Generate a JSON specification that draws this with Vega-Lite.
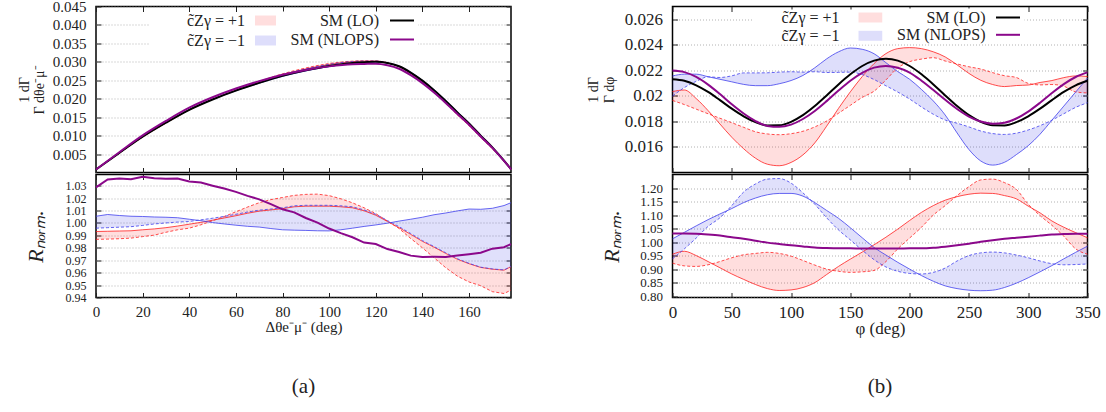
{
  "$schema": "https://vega.github.io/schema/vega-lite/v6.json",
  "background": "white",
  "padding": {"left": 16, "top": -1.5, "right": 10, "bottom": 5},
  "config": {
    "view": {"stroke": "black", "strokeWidth": 1.5},
    "font": "Liberation Serif, serif",
    "axis": {"labelFont": "Liberation Serif, serif", "labelFontSize": 15, "labelColor": "#222", "titleFont": "Liberation Serif, serif", "titleFontWeight": "normal", "titleColor": "#222", "tickColor": "#222", "tickWidth": 1, "tickSize": -5, "labelPadding": 15, "domain": false, "grid": false, "gridColor": "#a0a0a0", "gridDash": [1, 2], "gridWidth": 0.8, "labelFlush": false, "labelOverlap": false, "labelBound": false},
    "legend": {"labelFont": "Liberation Serif, serif", "labelFontSize": 16, "labelColor": "#222", "padding": 0},
    "title": {"font": "Liberation Serif, serif", "fontWeight": "normal", "fontSize": 21, "color": "#222"}
  },
  "datasets": {
    "at": [
      {"x":0,"lo":0.0008,"nlo":0.00082,"rs":0.00079,"rd":0.00079,"bs":0.0008,"bd":0.0008},
      {"x":10,"lo":0.0053,"nlo":0.00549,"rs":0.00527,"rd":0.00523,"bs":0.00533,"bd":0.00528},
      {"x":20,"lo":0.0097,"nlo":0.01006,"rs":0.00965,"rd":0.00959,"bs":0.00975,"bd":0.00968},
      {"x":30,"lo":0.0135,"nlo":0.01398,"rs":0.01345,"rd":0.0134,"bs":0.01356,"bd":0.0135},
      {"x":40,"lo":0.017,"nlo":0.01757,"rs":0.01698,"rd":0.01693,"bs":0.01705,"bd":0.01702},
      {"x":50,"lo":0.0198,"nlo":0.02039,"rs":0.01984,"rd":0.01984,"bs":0.01981,"bd":0.01988},
      {"x":60,"lo":0.0222,"nlo":0.02276,"rs":0.02233,"rd":0.0224,"bs":0.02216,"bd":0.02236},
      {"x":70,"lo":0.0243,"nlo":0.02476,"rs":0.02453,"rd":0.0247,"bs":0.02422,"bd":0.02455},
      {"x":80,"lo":0.0262,"nlo":0.02649,"rs":0.0265,"rd":0.02674,"bs":0.02606,"bd":0.02652},
      {"x":90,"lo":0.0277,"nlo":0.02781,"rs":0.02807,"rd":0.02834,"bs":0.02753,"bd":0.02809},
      {"x":100,"lo":0.0289,"nlo":0.02877,"rs":0.02929,"rd":0.02954,"bs":0.02872,"bd":0.02931},
      {"x":110,"lo":0.0297,"nlo":0.02936,"rs":0.03006,"rd":0.03018,"bs":0.02958,"bd":0.03009},
      {"x":115,"lo":0.0299,"nlo":0.02943,"rs":0.03019,"rd":0.03026,"bs":0.02982,"bd":0.03021},
      {"x":120,"lo":0.03,"nlo":0.02949,"rs":0.03019,"rd":0.03023,"bs":0.02995,"bd":0.03021},
      {"x":125,"lo":0.0297,"nlo":0.02908,"rs":0.02974,"rd":0.02974,"bs":0.02969,"bd":0.02976},
      {"x":130,"lo":0.0288,"nlo":0.02813,"rs":0.02869,"rd":0.02867,"bs":0.02884,"bd":0.02871},
      {"x":135,"lo":0.0271,"nlo":0.02639,"rs":0.02685,"rd":0.02676,"bs":0.02718,"bd":0.02687},
      {"x":140,"lo":0.0249,"nlo":0.02422,"rs":0.02453,"rd":0.0244,"bs":0.02501,"bd":0.02455},
      {"x":145,"lo":0.0223,"nlo":0.02169,"rs":0.02187,"rd":0.02168,"bs":0.02245,"bd":0.02188},
      {"x":150,"lo":0.0194,"nlo":0.01887,"rs":0.01892,"rd":0.0187,"bs":0.01956,"bd":0.01893},
      {"x":155,"lo":0.0163,"nlo":0.01587,"rs":0.01582,"rd":0.0156,"bs":0.01646,"bd":0.01583},
      {"x":160,"lo":0.0133,"nlo":0.01296,"rs":0.01286,"rd":0.01267,"bs":0.01345,"bd":0.01287},
      {"x":165,"lo":0.01,"nlo":0.00976,"rs":0.00964,"rd":0.0095,"bs":0.01011,"bd":0.00964},
      {"x":170,"lo":0.0068,"nlo":0.00666,"rs":0.00655,"rd":0.00642,"bs":0.00688,"bd":0.00655},
      {"x":175,"lo":0.0032,"nlo":0.00314,"rs":0.00308,"rd":0.00302,"bs":0.00324,"bd":0.00308},
      {"x":178,"lo":0.0009,"nlo":0.00088,"rs":0.00087,"rd":0.00085,"bs":0.00092,"bd":0.00087}
    ],
    "ab": [
      {"x":0,"p":1.0286,"rs":0.9931,"rd":0.9868,"bs":1.0054,"bd":0.9958},
      {"x":5,"p":1.035,"rs":0.9933,"rd":0.987,"bs":1.0068,"bd":0.9962},
      {"x":10,"p":1.0358,"rs":0.9935,"rd":0.9873,"bs":1.006,"bd":0.9966},
      {"x":15,"p":1.0352,"rs":0.9937,"rd":0.9878,"bs":1.0054,"bd":0.997},
      {"x":20,"p":1.0372,"rs":0.9945,"rd":0.989,"bs":1.0052,"bd":0.998},
      {"x":25,"p":1.036,"rs":0.9952,"rd":0.9902,"bs":1.0048,"bd":0.9992},
      {"x":30,"p":1.0355,"rs":0.9962,"rd":0.9925,"bs":1.0046,"bd":1.0},
      {"x":35,"p":1.0357,"rs":0.9975,"rd":0.9945,"bs":1.0042,"bd":1.0007},
      {"x":40,"p":1.0333,"rs":0.999,"rd":0.9958,"bs":1.003,"bd":1.0012},
      {"x":45,"p":1.0325,"rs":1.0005,"rd":0.9985,"bs":1.0018,"bd":1.0025},
      {"x":50,"p":1.03,"rs":1.0022,"rd":1.0018,"bs":1.0003,"bd":1.0038},
      {"x":55,"p":1.0277,"rs":1.004,"rd":1.0052,"bs":0.9992,"bd":1.0053},
      {"x":60,"p":1.025,"rs":1.0058,"rd":1.009,"bs":0.9982,"bd":1.007},
      {"x":65,"p":1.0218,"rs":1.0078,"rd":1.0128,"bs":0.9973,"bd":1.0088},
      {"x":70,"p":1.019,"rs":1.0095,"rd":1.0163,"bs":0.9967,"bd":1.0103},
      {"x":75,"p":1.0152,"rs":1.0105,"rd":1.0188,"bs":0.9955,"bd":1.0112},
      {"x":80,"p":1.011,"rs":1.0115,"rd":1.0205,"bs":0.9945,"bd":1.0122},
      {"x":85,"p":1.0085,"rs":1.013,"rd":1.0222,"bs":0.9942,"bd":1.0138},
      {"x":90,"p":1.004,"rs":1.0135,"rd":1.023,"bs":0.994,"bd":1.0142},
      {"x":95,"p":1.0003,"rs":1.0135,"rd":1.0232,"bs":0.9937,"bd":1.0142},
      {"x":100,"p":0.9955,"rs":1.0135,"rd":1.022,"bs":0.9936,"bd":1.0142},
      {"x":105,"p":0.9918,"rs":1.013,"rd":1.0195,"bs":0.9945,"bd":1.0138},
      {"x":110,"p":0.9885,"rs":1.0122,"rd":1.0162,"bs":0.9958,"bd":1.013},
      {"x":115,"p":0.9842,"rs":1.0098,"rd":1.0122,"bs":0.9972,"bd":1.0105},
      {"x":120,"p":0.983,"rs":1.0062,"rd":1.0075,"bs":0.9984,"bd":1.007},
      {"x":125,"p":0.979,"rs":1.0012,"rd":1.0015,"bs":0.9998,"bd":1.002},
      {"x":130,"p":0.9766,"rs":0.9962,"rd":0.9955,"bs":1.0015,"bd":0.997},
      {"x":135,"p":0.9737,"rs":0.9908,"rd":0.9875,"bs":1.003,"bd":0.9915},
      {"x":140,"p":0.9726,"rs":0.9852,"rd":0.98,"bs":1.0046,"bd":0.9858},
      {"x":145,"p":0.9727,"rs":0.9805,"rd":0.972,"bs":1.0066,"bd":0.981},
      {"x":150,"p":0.9726,"rs":0.9755,"rd":0.964,"bs":1.008,"bd":0.976},
      {"x":155,"p":0.9738,"rs":0.9708,"rd":0.9572,"bs":1.0097,"bd":0.9712},
      {"x":160,"p":0.9748,"rs":0.9672,"rd":0.9525,"bs":1.0112,"bd":0.9675},
      {"x":165,"p":0.976,"rs":0.9642,"rd":0.9495,"bs":1.011,"bd":0.9644},
      {"x":170,"p":0.9793,"rs":0.9628,"rd":0.9447,"bs":1.0118,"bd":0.963},
      {"x":175,"p":0.9805,"rs":0.962,"rd":0.9432,"bs":1.014,"bd":0.9622},
      {"x":178,"p":0.983,"rs":0.9648,"rd":0.9459,"bs":1.0163,"bd":0.965}
    ],
    "bt": [
      {"x":0,"lo":0.0213,"nlo":0.02198,"rs":0.02034,"rd":0.01964,"bs":0.02156,"bd":0.01998},
      {"x":10,"lo":0.02118,"nlo":0.02186,"rs":0.02046,"rd":0.01932,"bs":0.0217,"bd":0.02065},
      {"x":20,"lo":0.02083,"nlo":0.02148,"rs":0.01979,"rd":0.01896,"bs":0.0217,"bd":0.02114},
      {"x":30,"lo":0.02031,"nlo":0.02088,"rs":0.01885,"rd":0.0186,"bs":0.0215,"bd":0.02149},
      {"x":40,"lo":0.01967,"nlo":0.02014,"rs":0.0178,"rd":0.01825,"bs":0.0213,"bd":0.02144},
      {"x":50,"lo":0.019,"nlo":0.01934,"rs":0.01676,"rd":0.0179,"bs":0.0211,"bd":0.02157},
      {"x":60,"lo":0.0184,"nlo":0.01862,"rs":0.01586,"rd":0.01754,"bs":0.0209,"bd":0.0218},
      {"x":70,"lo":0.01794,"nlo":0.01803,"rs":0.01512,"rd":0.01719,"bs":0.0208,"bd":0.0218},
      {"x":80,"lo":0.01769,"nlo":0.01765,"rs":0.01465,"rd":0.01702,"bs":0.0208,"bd":0.02181},
      {"x":90,"lo":0.0177,"nlo":0.01758,"rs":0.01453,"rd":0.01696,"bs":0.02095,"bd":0.02186},
      {"x":100,"lo":0.01797,"nlo":0.01775,"rs":0.01479,"rd":0.01704,"bs":0.0212,"bd":0.02189},
      {"x":110,"lo":0.01849,"nlo":0.01819,"rs":0.01538,"rd":0.01723,"bs":0.0216,"bd":0.02186},
      {"x":120,"lo":0.0192,"nlo":0.01882,"rs":0.01632,"rd":0.01757,"bs":0.0222,"bd":0.02189},
      {"x":130,"lo":0.02003,"nlo":0.01959,"rs":0.01763,"rd":0.01803,"bs":0.0229,"bd":0.02183},
      {"x":140,"lo":0.0209,"nlo":0.02042,"rs":0.01902,"rd":0.01864,"bs":0.02345,"bd":0.02184},
      {"x":150,"lo":0.02169,"nlo":0.02119,"rs":0.02032,"rd":0.01926,"bs":0.02375,"bd":0.02186},
      {"x":160,"lo":0.02234,"nlo":0.0218,"rs":0.02151,"rd":0.01988,"bs":0.02365,"bd":0.02167},
      {"x":170,"lo":0.02276,"nlo":0.02221,"rs":0.02253,"rd":0.02037,"bs":0.0233,"bd":0.02128},
      {"x":180,"lo":0.0229,"nlo":0.02235,"rs":0.02331,"rd":0.02125,"bs":0.0226,"bd":0.02079},
      {"x":190,"lo":0.02276,"nlo":0.02221,"rs":0.0237,"rd":0.02219,"bs":0.0219,"bd":0.0203},
      {"x":200,"lo":0.02234,"nlo":0.02183,"rs":0.02378,"rd":0.02268,"bs":0.0213,"bd":0.01975},
      {"x":210,"lo":0.02169,"nlo":0.02119,"rs":0.0237,"rd":0.02288,"bs":0.0205,"bd":0.01913},
      {"x":220,"lo":0.0209,"nlo":0.02046,"rs":0.02345,"rd":0.02299,"bs":0.0196,"bd":0.01856},
      {"x":230,"lo":0.02003,"nlo":0.01969,"rs":0.02305,"rd":0.02273,"bs":0.0185,"bd":0.01811},
      {"x":240,"lo":0.0192,"nlo":0.01897,"rs":0.02243,"rd":0.0225,"bs":0.0171,"bd":0.01786},
      {"x":250,"lo":0.01849,"nlo":0.01838,"rs":0.02176,"rd":0.02228,"bs":0.0158,"bd":0.01757},
      {"x":260,"lo":0.01797,"nlo":0.01799,"rs":0.02122,"rd":0.0221,"bs":0.0149,"bd":0.01725},
      {"x":270,"lo":0.0177,"nlo":0.01782,"rs":0.02089,"rd":0.02182,"bs":0.01458,"bd":0.01705},
      {"x":280,"lo":0.01769,"nlo":0.0179,"rs":0.02073,"rd":0.02158,"bs":0.0148,"bd":0.01698},
      {"x":290,"lo":0.01794,"nlo":0.01823,"rs":0.02081,"rd":0.02144,"bs":0.0154,"bd":0.01708},
      {"x":300,"lo":0.0184,"nlo":0.01877,"rs":0.02085,"rd":0.02098,"bs":0.0161,"bd":0.01733},
      {"x":310,"lo":0.019,"nlo":0.01946,"rs":0.02105,"rd":0.02086,"bs":0.017,"bd":0.01767},
      {"x":320,"lo":0.01967,"nlo":0.02022,"rs":0.0212,"rd":0.02089,"bs":0.0181,"bd":0.0181},
      {"x":330,"lo":0.02031,"nlo":0.02092,"rs":0.02143,"rd":0.02076,"bs":0.0192,"bd":0.0186},
      {"x":340,"lo":0.02083,"nlo":0.02148,"rs":0.02156,"rd":0.02031,"bs":0.0203,"bd":0.0191},
      {"x":350,"lo":0.02118,"nlo":0.02184,"rs":0.02152,"rd":0.02023,"bs":0.0214,"bd":0.01946}
    ],
    "bb": [
      {"x":0,"p":1.032,"rs":0.955,"rd":0.922,"bs":1.012,"bd":0.938},
      {"x":10,"p":1.032,"rs":0.966,"rd":0.912,"bs":1.036,"bd":0.975},
      {"x":20,"p":1.031,"rs":0.95,"rd":0.91,"bs":1.06,"bd":1.015},
      {"x":30,"p":1.028,"rs":0.928,"rd":0.916,"bs":1.083,"bd":1.058},
      {"x":40,"p":1.024,"rs":0.905,"rd":0.928,"bs":1.104,"bd":1.09},
      {"x":50,"p":1.018,"rs":0.882,"rd":0.942,"bs":1.124,"bd":1.135},
      {"x":60,"p":1.012,"rs":0.862,"rd":0.953,"bs":1.146,"bd":1.185},
      {"x":70,"p":1.005,"rs":0.843,"rd":0.958,"bs":1.163,"bd":1.215},
      {"x":80,"p":0.998,"rs":0.828,"rd":0.962,"bs":1.175,"bd":1.233},
      {"x":90,"p":0.993,"rs":0.821,"rd":0.958,"bs":1.18,"bd":1.235},
      {"x":100,"p":0.988,"rs":0.823,"rd":0.948,"bs":1.18,"bd":1.218},
      {"x":110,"p":0.984,"rs":0.832,"rd":0.932,"bs":1.17,"bd":1.182},
      {"x":120,"p":0.98,"rs":0.85,"rd":0.915,"bs":1.146,"bd":1.14},
      {"x":130,"p":0.978,"rs":0.88,"rd":0.9,"bs":1.117,"bd":1.09},
      {"x":140,"p":0.977,"rs":0.91,"rd":0.892,"bs":1.088,"bd":1.045},
      {"x":150,"p":0.977,"rs":0.937,"rd":0.888,"bs":1.053,"bd":1.008},
      {"x":160,"p":0.976,"rs":0.963,"rd":0.89,"bs":1.016,"bd":0.97},
      {"x":170,"p":0.976,"rs":0.99,"rd":0.895,"bs":0.98,"bd":0.935},
      {"x":180,"p":0.976,"rs":1.018,"rd":0.928,"bs":0.952,"bd":0.908},
      {"x":190,"p":0.976,"rs":1.048,"rd":0.975,"bs":0.925,"bd":0.892},
      {"x":200,"p":0.977,"rs":1.08,"rd":1.015,"bs":0.9,"bd":0.884},
      {"x":210,"p":0.977,"rs":1.11,"rd":1.055,"bs":0.876,"bd":0.882},
      {"x":220,"p":0.979,"rs":1.135,"rd":1.1,"bs":0.855,"bd":0.888},
      {"x":230,"p":0.983,"rs":1.155,"rd":1.135,"bs":0.838,"bd":0.904},
      {"x":240,"p":0.988,"rs":1.168,"rd":1.172,"bs":0.828,"bd":0.93},
      {"x":250,"p":0.994,"rs":1.177,"rd":1.205,"bs":0.822,"bd":0.95},
      {"x":260,"p":1.001,"rs":1.181,"rd":1.23,"bs":0.82,"bd":0.96},
      {"x":270,"p":1.007,"rs":1.18,"rd":1.233,"bs":0.822,"bd":0.963},
      {"x":280,"p":1.012,"rs":1.172,"rd":1.22,"bs":0.832,"bd":0.96},
      {"x":290,"p":1.016,"rs":1.16,"rd":1.195,"bs":0.848,"bd":0.952},
      {"x":300,"p":1.02,"rs":1.133,"rd":1.14,"bs":0.868,"bd":0.942},
      {"x":310,"p":1.024,"rs":1.108,"rd":1.098,"bs":0.89,"bd":0.93},
      {"x":320,"p":1.028,"rs":1.078,"rd":1.062,"bs":0.913,"bd":0.92},
      {"x":330,"p":1.03,"rs":1.055,"rd":1.022,"bs":0.938,"bd":0.916},
      {"x":340,"p":1.031,"rs":1.035,"rd":0.975,"bs":0.962,"bd":0.917},
      {"x":350,"p":1.031,"rs":1.016,"rd":0.955,"bs":0.985,"bd":0.919}
    ]
  },
  "spacing": 69.5,
  "resolve": {"scale": {"fill": "independent", "stroke": "independent"}, "legend": {"fill": "independent", "stroke": "independent"}},
  "hconcat": [
    {
      "spacing": -4,
      "resolve": {"scale": {"fill": "independent", "stroke": "independent"}, "legend": {"fill": "independent", "stroke": "independent"}},
      "vconcat": [
        {
          "width": 415, "height": 166,
          "data": {"name": "at"},
          "resolve": {"axis": {"x": "independent", "y": "independent"}},
          "layer": [
            {"mark": {"type": "area", "fillOpacity": 0.13, "interpolate": "monotone"},
             "encoding": {
               "x": {"field": "x", "type": "quantitative", "scale": {"domain": [0, 178], "nice": false, "zero": false}, "axis": {"orient": "bottom", "values": [0,20,40,60,80,100,120,140,160], "labels": false, "title": null}},
               "y": {"field": "rs", "type": "quantitative", "scale": {"domain": [0, 0.045], "nice": false, "zero": false}, "axis": {"orient": "left", "values": [0.005,0.01,0.015,0.02,0.025,0.03,0.035,0.04,0.045], "format": ".3f", "grid": true, "title": ["1   dΓ", "Γ  dθe⁻μ⁻"], "titleFontSize": 14, "titleLineHeight": 15, "titlePadding": 6}},
               "y2": {"field": "rd"},
               "fill": {"datum": "c̃Zγ = +1", "type": "nominal", "scale": {"domain": ["c̃Zγ = +1", "c̃Zγ = −1"], "range": ["#ff0000", "#0000e0"]},
                 "legend": {"orient": "none", "legendX": 53, "legendY": 6, "title": null, "symbolType": "M-1.5,-0.625H1.5V0.625H-1.5Z", "symbolSize": 256, "symbolStrokeWidth": 0, "symbolOpacity": 0.13, "symbolOffset": 110, "labelOffset": -30, "labelAlign": "right", "rowPadding": 4, "fillColor": "white"}}
             }},
            {"mark": {"type": "area", "fillOpacity": 0.13, "interpolate": "monotone"},
             "encoding": {
               "x": {"field": "x", "type": "quantitative", "axis": {"orient": "top", "values": [0,20,40,60,80,100,120,140,160], "labels": false, "title": null}},
               "y": {"field": "bs", "type": "quantitative", "axis": {"orient": "right", "values": [0.005,0.01,0.015,0.02,0.025,0.03,0.035,0.04,0.045], "labels": false, "title": null}},
               "y2": {"field": "bd"},
               "fill": {"datum": "c̃Zγ = −1", "type": "nominal"}
             }},
            {"mark": {"type": "line", "stroke": "#ff2020", "strokeWidth": 0.8, "interpolate": "monotone"}, "encoding": {"x": {"field": "x", "type": "quantitative", "axis": null}, "y": {"field": "rs", "type": "quantitative", "axis": null}}},
            {"mark": {"type": "line", "stroke": "#ff2020", "strokeWidth": 0.8, "strokeDash": [3, 2], "interpolate": "monotone"}, "encoding": {"x": {"field": "x", "type": "quantitative", "axis": null}, "y": {"field": "rd", "type": "quantitative", "axis": null}}},
            {"mark": {"type": "line", "stroke": "#4040ee", "strokeWidth": 0.8, "interpolate": "monotone"}, "encoding": {"x": {"field": "x", "type": "quantitative", "axis": null}, "y": {"field": "bs", "type": "quantitative", "axis": null}}},
            {"mark": {"type": "line", "stroke": "#4040ee", "strokeWidth": 0.8, "strokeDash": [3, 2], "interpolate": "monotone"}, "encoding": {"x": {"field": "x", "type": "quantitative", "axis": null}, "y": {"field": "bd", "type": "quantitative", "axis": null}}},
            {"mark": {"type": "line", "strokeWidth": 2, "interpolate": "monotone"},
             "encoding": {"x": {"field": "x", "type": "quantitative", "axis": null}, "y": {"field": "lo", "type": "quantitative", "axis": null},
               "stroke": {"datum": "SM (LO)", "type": "nominal", "scale": {"domain": ["SM (LO)", "SM (NLOPS)"], "range": ["#000000", "#8b088b"]},
                 "legend": {"orient": "none", "legendX": 180, "legendY": 5, "title": null, "symbolType": "M-1.5,0H1.5", "symbolSize": 256, "symbolStrokeWidth": 2, "symbolOffset": 117, "labelOffset": -32, "labelAlign": "right", "rowPadding": 2, "fillColor": "white"}}}},
            {"mark": {"type": "line", "strokeWidth": 2, "interpolate": "monotone"},
             "encoding": {"x": {"field": "x", "type": "quantitative", "axis": null}, "y": {"field": "nlo", "type": "quantitative", "axis": null},
               "stroke": {"datum": "SM (NLOPS)", "type": "nominal"}}}
          ]
        },
        {
          "width": 415, "height": 123,
          "data": {"name": "ab"},
          "title": {"text": "(a)", "orient": "bottom", "frame": "group", "anchor": "middle", "offset": 41},
          "resolve": {"axis": {"x": "independent", "y": "independent"}},
          "layer": [
            {"mark": {"type": "area", "fill": "#ff0000", "fillOpacity": 0.13},
             "encoding": {
               "x": {"field": "x", "type": "quantitative", "scale": {"domain": [0, 178], "nice": false, "zero": false}, "axis": {"orient": "bottom", "values": [0,20,40,60,80,100,120,140,160], "labelPadding": 12, "title": "Δθe⁻μ⁻ (deg)", "titleFontSize": 15, "titlePadding": 0}},
               "y": {"field": "rs", "type": "quantitative", "scale": {"domain": [0.94, 1.039], "nice": false, "zero": false}, "axis": {"orient": "left", "values": [0.94,0.95,0.96,0.97,0.98,0.99,1.0,1.01,1.02,1.03], "format": ".2f", "labelFontSize": 12, "grid": true, "title": "Rₙₒᵣₘ.", "titleFontSize": 22, "titleFontStyle": "italic", "titlePadding": 18}},
               "y2": {"field": "rd"}
             }},
            {"mark": {"type": "area", "fill": "#0000e0", "fillOpacity": 0.12},
             "encoding": {
               "x": {"field": "x", "type": "quantitative", "axis": {"orient": "top", "values": [0,20,40,60,80,100,120,140,160], "labels": false, "title": null}},
               "y": {"field": "bs", "type": "quantitative", "axis": {"orient": "right", "values": [0.94,0.95,0.96,0.97,0.98,0.99,1.0,1.01,1.02,1.03], "labels": false, "title": null}},
               "y2": {"field": "bd"}
             }},
            {"mark": {"type": "line", "stroke": "#ff2020", "strokeWidth": 0.8}, "encoding": {"x": {"field": "x", "type": "quantitative", "axis": null}, "y": {"field": "rs", "type": "quantitative", "axis": null}}},
            {"mark": {"type": "line", "stroke": "#ff2020", "strokeWidth": 0.8, "strokeDash": [3, 2]}, "encoding": {"x": {"field": "x", "type": "quantitative", "axis": null}, "y": {"field": "rd", "type": "quantitative", "axis": null}}},
            {"mark": {"type": "line", "stroke": "#4040ee", "strokeWidth": 0.8}, "encoding": {"x": {"field": "x", "type": "quantitative", "axis": null}, "y": {"field": "bs", "type": "quantitative", "axis": null}}},
            {"mark": {"type": "line", "stroke": "#4040ee", "strokeWidth": 0.8, "strokeDash": [3, 2]}, "encoding": {"x": {"field": "x", "type": "quantitative", "axis": null}, "y": {"field": "bd", "type": "quantitative", "axis": null}}},
            {"mark": {"type": "line", "stroke": "#8b088b", "strokeWidth": 2}, "encoding": {"x": {"field": "x", "type": "quantitative", "axis": null}, "y": {"field": "p", "type": "quantitative", "axis": null}}}
          ]
        }
      ]
    },
    {
      "spacing": -4,
      "resolve": {"scale": {"fill": "independent", "stroke": "independent"}, "legend": {"fill": "independent", "stroke": "independent"}},
      "vconcat": [
        {
          "width": 415, "height": 166,
          "data": {"name": "bt"},
          "resolve": {"axis": {"x": "independent", "y": "independent"}},
          "layer": [
            {"mark": {"type": "area", "fillOpacity": 0.13, "interpolate": "monotone"},
             "encoding": {
               "x": {"field": "x", "type": "quantitative", "scale": {"domain": [0, 350], "nice": false, "zero": false}, "axis": {"orient": "bottom", "values": [0,50,100,150,200,250,300,350], "labels": false, "title": null}},
               "y": {"field": "rs", "type": "quantitative", "scale": {"domain": [0.014, 0.027], "nice": false, "zero": false}, "axis": {"orient": "left", "values": [0.016,0.018,0.02,0.022,0.024,0.026], "format": ".3~f", "labelFontSize": 17, "grid": true, "title": ["1  dΓ", "Γ  dφ"], "titleFontSize": 14, "titleLineHeight": 16, "titlePadding": 8}},
               "y2": {"field": "rd"},
               "fill": {"datum": "c̃Zγ = +1", "type": "nominal", "scale": {"domain": ["c̃Zγ = +1", "c̃Zγ = −1"], "range": ["#ff0000", "#0000e0"]},
                 "legend": {"orient": "none", "legendX": 80, "legendY": 3, "title": null, "symbolType": "M-1.5,-0.625H1.5V0.625H-1.5Z", "symbolSize": 256, "symbolStrokeWidth": 0, "symbolOpacity": 0.13, "symbolOffset": 110, "labelOffset": -39, "labelAlign": "right", "rowPadding": 2.3, "fillColor": "white"}}
             }},
            {"mark": {"type": "area", "fillOpacity": 0.13, "interpolate": "monotone"},
             "encoding": {
               "x": {"field": "x", "type": "quantitative", "axis": {"orient": "top", "values": [0,50,100,150,200,250,300,350], "labels": false, "title": null}},
               "y": {"field": "bs", "type": "quantitative", "axis": {"orient": "right", "values": [0.016,0.018,0.02,0.022,0.024,0.026], "labels": false, "title": null}},
               "y2": {"field": "bd"},
               "fill": {"datum": "c̃Zγ = −1", "type": "nominal"}
             }},
            {"mark": {"type": "line", "stroke": "#ff2020", "strokeWidth": 0.8, "interpolate": "monotone"}, "encoding": {"x": {"field": "x", "type": "quantitative", "axis": null}, "y": {"field": "rs", "type": "quantitative", "axis": null}}},
            {"mark": {"type": "line", "stroke": "#ff2020", "strokeWidth": 0.8, "strokeDash": [3, 2], "interpolate": "monotone"}, "encoding": {"x": {"field": "x", "type": "quantitative", "axis": null}, "y": {"field": "rd", "type": "quantitative", "axis": null}}},
            {"mark": {"type": "line", "stroke": "#4040ee", "strokeWidth": 0.8, "interpolate": "monotone"}, "encoding": {"x": {"field": "x", "type": "quantitative", "axis": null}, "y": {"field": "bs", "type": "quantitative", "axis": null}}},
            {"mark": {"type": "line", "stroke": "#4040ee", "strokeWidth": 0.8, "strokeDash": [3, 2], "interpolate": "monotone"}, "encoding": {"x": {"field": "x", "type": "quantitative", "axis": null}, "y": {"field": "bd", "type": "quantitative", "axis": null}}},
            {"mark": {"type": "line", "strokeWidth": 2, "interpolate": "monotone"},
             "encoding": {"x": {"field": "x", "type": "quantitative", "axis": null}, "y": {"field": "lo", "type": "quantitative", "axis": null},
               "stroke": {"datum": "SM (LO)", "type": "nominal", "scale": {"domain": ["SM (LO)", "SM (NLOPS)"], "range": ["#000000", "#8b088b"]},
                 "legend": {"orient": "none", "legendX": 210, "legendY": 2, "title": null, "symbolType": "M-1.5,0H1.5", "symbolSize": 256, "symbolStrokeWidth": 2, "symbolOffset": 116.5, "labelOffset": -31.5, "labelAlign": "right", "rowPadding": 0.3, "fillColor": "white"}}}},
            {"mark": {"type": "line", "strokeWidth": 2, "interpolate": "monotone"},
             "encoding": {"x": {"field": "x", "type": "quantitative", "axis": null}, "y": {"field": "nlo", "type": "quantitative", "axis": null},
               "stroke": {"datum": "SM (NLOPS)", "type": "nominal"}}}
          ]
        },
        {
          "width": 415, "height": 123,
          "data": {"name": "bb"},
          "title": {"text": "(b)", "orient": "bottom", "frame": "group", "anchor": "middle", "offset": 39},
          "resolve": {"axis": {"x": "independent", "y": "independent"}},
          "layer": [
            {"mark": {"type": "area", "fill": "#ff0000", "fillOpacity": 0.13, "interpolate": "monotone"},
             "encoding": {
               "x": {"field": "x", "type": "quantitative", "scale": {"domain": [0, 350], "nice": false, "zero": false}, "axis": {"orient": "bottom", "values": [0,50,100,150,200,250,300,350], "labelFontSize": 17, "labelPadding": 12, "title": "φ (deg)", "titleFontSize": 17, "titlePadding": 0}},
               "y": {"field": "rs", "type": "quantitative", "scale": {"domain": [0.795, 1.25], "nice": false, "zero": false}, "axis": {"orient": "left", "values": [0.8,0.85,0.9,0.95,1.0,1.05,1.1,1.15,1.2], "format": ".2f", "labelFontSize": 13, "grid": true, "title": "Rₙₒᵣₘ.", "titleFontSize": 22, "titleFontStyle": "italic", "titlePadding": 16}},
               "y2": {"field": "rd"}
             }},
            {"mark": {"type": "area", "fill": "#0000e0", "fillOpacity": 0.12, "interpolate": "monotone"},
             "encoding": {
               "x": {"field": "x", "type": "quantitative", "axis": {"orient": "top", "values": [0,50,100,150,200,250,300,350], "labels": false, "title": null}},
               "y": {"field": "bs", "type": "quantitative", "axis": {"orient": "right", "values": [0.8,0.85,0.9,0.95,1.0,1.05,1.1,1.15,1.2], "labels": false, "title": null}},
               "y2": {"field": "bd"}
             }},
            {"mark": {"type": "line", "stroke": "#ff2020", "strokeWidth": 0.8, "interpolate": "monotone"}, "encoding": {"x": {"field": "x", "type": "quantitative", "axis": null}, "y": {"field": "rs", "type": "quantitative", "axis": null}}},
            {"mark": {"type": "line", "stroke": "#ff2020", "strokeWidth": 0.8, "strokeDash": [3, 2], "interpolate": "monotone"}, "encoding": {"x": {"field": "x", "type": "quantitative", "axis": null}, "y": {"field": "rd", "type": "quantitative", "axis": null}}},
            {"mark": {"type": "line", "stroke": "#4040ee", "strokeWidth": 0.8, "interpolate": "monotone"}, "encoding": {"x": {"field": "x", "type": "quantitative", "axis": null}, "y": {"field": "bs", "type": "quantitative", "axis": null}}},
            {"mark": {"type": "line", "stroke": "#4040ee", "strokeWidth": 0.8, "strokeDash": [3, 2], "interpolate": "monotone"}, "encoding": {"x": {"field": "x", "type": "quantitative", "axis": null}, "y": {"field": "bd", "type": "quantitative", "axis": null}}},
            {"mark": {"type": "line", "stroke": "#8b088b", "strokeWidth": 2, "interpolate": "monotone"}, "encoding": {"x": {"field": "x", "type": "quantitative", "axis": null}, "y": {"field": "p", "type": "quantitative", "axis": null}}}
          ]
        }
      ]
    }
  ]
}
